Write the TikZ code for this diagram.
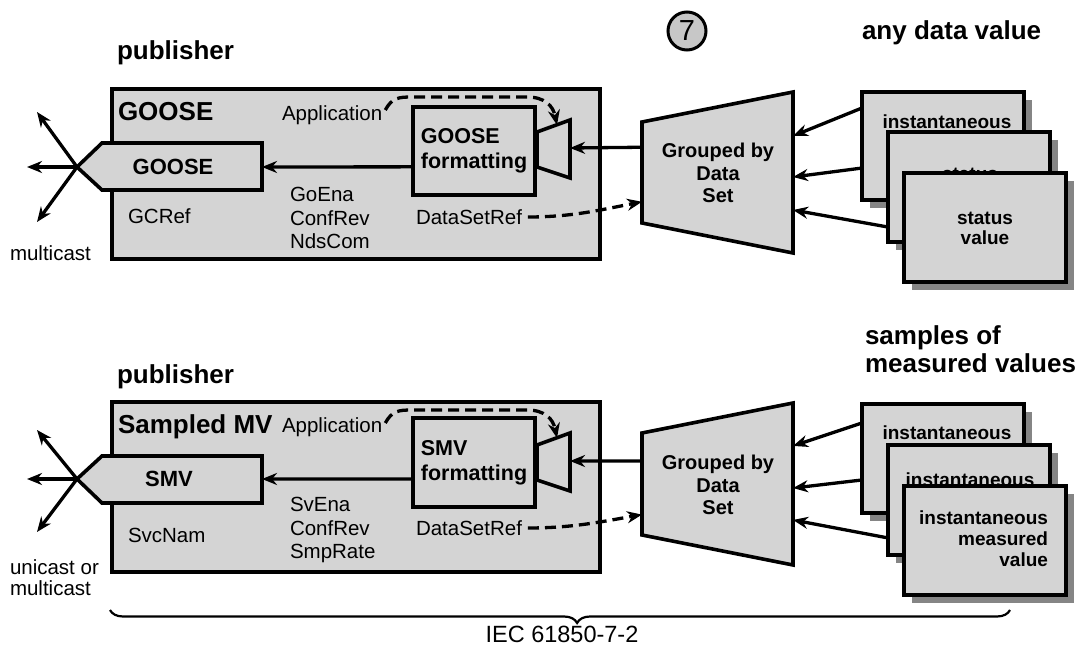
\documentclass[tikz,border=0pt]{standalone}
\usepackage{fontspec}
\setmainfont{Liberation Sans}
\usetikzlibrary{arrows.meta,calc,shadows,decorations.pathreplacing}
\definecolor{boxgray}{gray}{0.83}
\definecolor{shadegray}{gray}{0.52}
\definecolor{circgray}{gray}{0.78}
\begin{document}
\begin{tikzpicture}[x=1pt,y=-1pt,
  every node/.style={inner sep=0pt,outer sep=0pt},
  boxst/.style={draw,line width=3.6pt,fill=boxgray},
  databox/.style={boxst,drop shadow={shadow xshift=8pt,shadow yshift=-8pt,fill=shadegray,opacity=1},minimum width=162pt,anchor=north west},
  arr/.style={line width=3.3pt,-{Stealth[length=15pt,width=12pt]}},
  darr/.style={arr,dash pattern=on 11pt off 6pt},
  head/.style={font=\bfseries\fontsize{26}{28}\selectfont},
  pdu/.style={font=\bfseries\fontsize{22}{24}\selectfont},
  fmt/.style={font=\bfseries\fontsize{21.5}{25}\selectfont,align=left},
  grp/.style={font=\bfseries\fontsize{20}{22.5}\selectfont,align=center},
  dat/.style={font=\bfseries\fontsize{19}{21}\selectfont},
  body/.style={font=\fontsize{20.5}{23.5}\selectfont,align=left}]
\useasboundingbox (0,0) rectangle (1088,652);
\fill[white] (0,0) rectangle (1088,652);

% ================= top: GOOSE =================
\node[head,anchor=base west] (gpub) at (117,60) {publisher};
\node[boxst,minimum width=488pt,minimum height=170pt,anchor=north west] (gbox) at (112,89) {};
\node[head,anchor=west] (gtitle) at (118,112) {GOOSE};
\coordinate (gtip) at (77,167);
\coordinate (gpr) at (262,167);
\draw[boxst,line join=miter] (gtip) -- (102,143) -- (262,143) -- (262,190) -- (102,190) -- cycle;
\node[pdu] (gpdu) at (173,167) {GOOSE};
\coordinate (gx1) at (37,112);
\coordinate (gx2) at (27,167);
\coordinate (gx3) at (37,222);
\draw[arr] (gtip) -- (gx1);
\draw[arr] (gtip) -- (gx2);
\draw[arr] (gtip) -- (gx3);
\node[body,anchor=west] (gmc) at (10,253) {multicast};
\node[body,anchor=west] (gcref) at (128,216) {GCRef};
\node[body,anchor=west] (gapp) at (282,115) {Application};
\node[body,anchor=west] (gpar) at (290,218) {GoEna\\ConfRev\\NdsCom};
\node[body,anchor=west] (gdsr) at (416,217) {DataSetRef};
\node[boxst,fmt,minimum width=122pt,minimum height=88pt,anchor=north west] (gfmt) at (413,107) {GOOSE\\formatting};
\draw[arr] ($(gfmt.north west)!0.68!(gfmt.south west)$) -- (gpr);
\coordinate (gfr) at (570,148);
\coordinate (gft) at (557,125);
\draw[boxst] (537,132) -- (570,120) -- (570,178) -- (537,167) -- cycle;
\draw[darr] ($(gapp.east)+(3,-5)$) .. controls (392,98) and (398,97) .. (412,97) -- (527,97) .. controls (545,97) and (553,106) .. (gft);
\coordinate (gtl) at (642,122);
\coordinate (gtr) at (793,92);
\coordinate (gbr) at (793,253);
\coordinate (gbl) at (642,223);
\draw[boxst] (gtl) -- (gtr) -- (gbr) -- (gbl) -- cycle;
\node[grp] (ggrp) at (718,173) {Grouped by\\Data\\Set};
\draw[arr] ($(gtl)!0.25!(gbl)$) -- (gfr);
\draw[darr] ($(gdsr.east)+(6,0)$) .. controls (572,217) and (600,210) .. ($(gtl)!0.79!(gbl)$);
\node[head,anchor=base west] (ganyd) at (862,40) {any data value};
\node[circle,draw,line width=3pt,fill=circgray,minimum size=38pt,font=\fontsize{29}{29}\selectfont] (seven) at (687,31) {7};
\node[databox,minimum height=108pt] (gd1) at (862,92) {};
\node[dat] at (947,122) {instantaneous};
\node[databox,minimum height=110pt] (gd2) at (888,132) {};
\node[dat] at (970,174) {status};
\node[databox,minimum height=109pt] (gd3) at (904,173) {};
\node[dat,align=center,font=\bfseries\fontsize{19}{20}\selectfont] at (985,228) {status\\value};
\draw[arr] ($(gd1.north west)!0.148!(gd1.south west)$) -- ($(gtr)!0.273!(gbr)$);
\draw[arr] ($(gd1.north west)!0.704!(gd1.south west)$) -- ($(gtr)!0.528!(gbr)$);
\draw[arr] ($(gd2.north west)!0.864!(gd2.south west)$) -- ($(gtr)!0.733!(gbr)$);

% ================= bottom: SMV =================
\node[head,anchor=base west] (spub) at (117,384) {publisher};
\node[boxst,minimum width=488pt,minimum height=170pt,anchor=north west] (sbox) at (112,402) {};
\node[head,anchor=west] (stitle) at (118,427) {Sampled MV};
\coordinate (stip) at (77,479);
\coordinate (spr) at (262,479);
\draw[boxst,line join=miter] (stip) -- (102,456) -- (262,456) -- (262,503) -- (102,503) -- cycle;
\node[pdu] (spdu) at (169,479) {SMV};
\coordinate (sx1) at (37,430);
\coordinate (sx2) at (27,479);
\coordinate (sx3) at (37,532);
\draw[arr] (stip) -- (sx1);
\draw[arr] (stip) -- (sx2);
\draw[arr] (stip) -- (sx3);
\node[body,anchor=west,font=\fontsize{20.5}{21}\selectfont] (suc) at (10,578) {unicast or\\multicast};
\node[body,anchor=west] (ssvc) at (128,535) {SvcNam};
\node[body,anchor=west] (sapp) at (282,427) {Application};
\node[body,anchor=west] (spar) at (290,530) {SvEna\\ConfRev\\SmpRate};
\node[body,anchor=west] (sdsr) at (416,528) {DataSetRef};
\node[boxst,fmt,minimum width=122pt,minimum height=89pt,anchor=north west] (sfmt) at (413,418) {SMV\\formatting};
\draw[arr] ($(sfmt.north west)!0.685!(sfmt.south west)$) -- (spr);
\coordinate (sfr) at (570,461);
\coordinate (sft) at (557,438);
\draw[boxst] (537,445) -- (570,433) -- (570,491) -- (537,480) -- cycle;
\draw[darr] ($(sapp.east)+(3,-4)$) .. controls (392,411) and (398,410) .. (412,410) -- (527,410) .. controls (545,410) and (553,419) .. (sft);
\coordinate (stl) at (642,433);
\coordinate (str) at (793,403);
\coordinate (sbr) at (793,565);
\coordinate (sbl) at (642,535);
\draw[boxst] (stl) -- (str) -- (sbr) -- (sbl) -- cycle;
\node[grp] (sgrp) at (718,485) {Grouped by\\Data\\Set};
\draw[arr] ($(stl)!0.275!(sbl)$) -- (sfr);
\draw[darr] ($(sdsr.east)+(6,0)$) .. controls (572,528) and (600,522) .. ($(stl)!0.80!(sbl)$);
\node[head,anchor=base west] (ssamp1) at (865,345) {samples of};
\node[head,anchor=base west] (ssamp2) at (865,373) {measured values};
\node[databox,minimum height=109pt] (sd1) at (862,404) {};
\node[dat] at (947,433) {instantaneous};
\node[databox,minimum height=110pt] (sd2) at (888,445) {};
\node[dat] at (970,480) {instantaneous};
\node[databox,minimum height=109pt] (sd3) at (904,486) {};
\node[dat,align=right,anchor=east] at (1048,539) {instantaneous\\measured\\value};
\draw[arr] ($(sd1.north west)!0.174!(sd1.south west)$) -- ($(str)!0.265!(sbr)$);
\draw[arr] ($(sd1.north west)!0.697!(sd1.south west)$) -- ($(str)!0.525!(sbr)$);
\draw[arr] ($(sd2.north west)!0.845!(sd2.south west)$) -- ($(str)!0.722!(sbr)$);

% ================= brace =================
\coordinate (bl) at (110,610);
\coordinate (br) at (1010,610);
\draw[line width=2.2pt,decorate,decoration={brace,mirror,amplitude=13pt,aspect=0.519}] (bl) -- (br);
\node[font=\fontsize{23.5}{25}\selectfont] (iec) at (562,634) {IEC 61850-7-2};
\end{tikzpicture}
\end{document}
